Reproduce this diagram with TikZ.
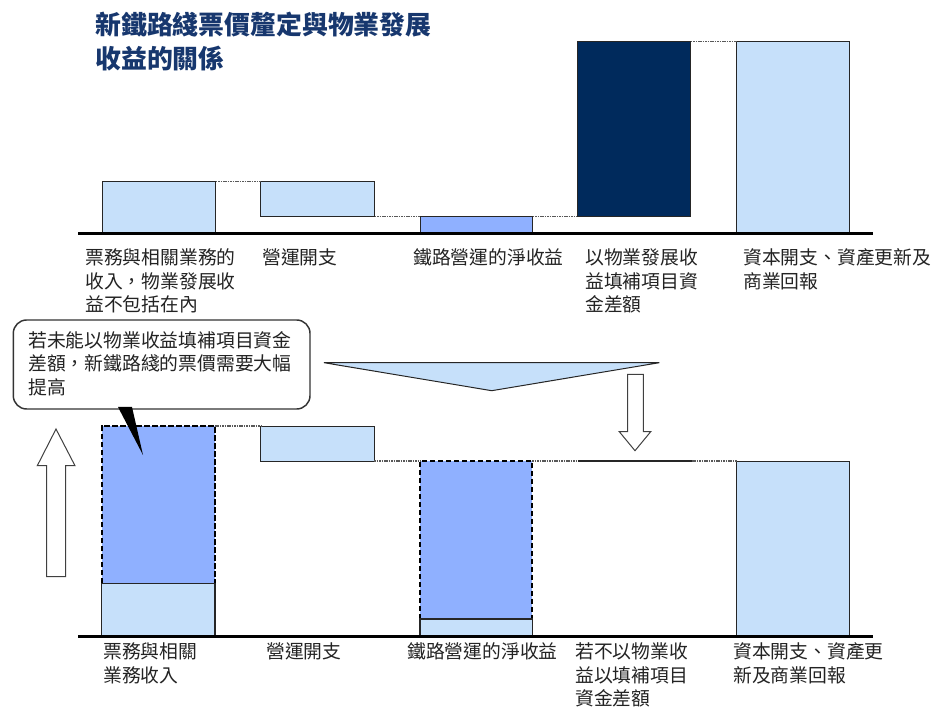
\documentclass[tikz,border=0pt]{standalone}
\usepackage{fontspec}
\setmainfont{Noto Sans CJK TC}
\usetikzlibrary{fit}
\definecolor{lb}{RGB}{198,224,250}
\definecolor{mb}{RGB}{143,176,255}
\definecolor{navy}{RGB}{0,42,92}
\definecolor{titlec}{RGB}{23,55,110}
\definecolor{txt}{RGB}{35,35,35}
\begin{document}
\begin{tikzpicture}[x=0.75pt,y=-0.75pt,
  lab/.style={anchor=north west, inner sep=0pt, align=left,
    font=\fontsize{14.1pt}{17.6pt}\selectfont, text=txt},
  barbox/.style={fit={#1}, inner sep=0pt, outer sep=0pt, draw=black!85, line width=0.75pt},
  fillbox/.style={fit={#1}, inner sep=0pt, outer sep=0pt},
  dashline/.style={draw=black, line width=1.4pt, dash pattern=on 4pt off 2pt},
  dots/.style={draw=black!65, line width=0.8pt, dash pattern=on 1.2pt off 0.6pt},
  axisline/.style={draw=black, line width=2.6pt},
  blockarrow/.style={draw=black!75, fill=white, line width=0.75pt}]
\useasboundingbox (0,0) rectangle (943,709);

% title
\node[anchor=north west, inner sep=0pt, align=left,
  font=\bfseries\fontsize{19.4pt}{25.5pt}\selectfont, text=titlec] (title) at (95,12)
  {新鐵路綫票價釐定與物業發展\\收益的關係};

% ---------- top chart ----------
\node[barbox={(102,181.7) (215.7,233.5)}, fill=lb] (t1) {};
\node[barbox={(260.7,181.7) (374.7,216.5)}, fill=lb] (t2) {};
\node[barbox={(420,216.5) (532.7,233.5)}, fill=mb] (t3) {};
\node[barbox={(577.3,41.7) (690.7,216.5)}, fill=navy] (t4) {};
\node[barbox={(736.7,41.7) (849.3,233.5)}, fill=lb] (t5) {};
\draw[dots] (t1.north east) -- (t2.north west);
\draw[dots] (t2.south east) -- (t3.north west);
\draw[dots] (t3.north east) -- (t4.south west);
\draw[dots] (t4.north east) -- (t5.north west);
\coordinate (ta0) at (78,233.5);
\coordinate (ta1) at (873,233.5);
\draw[axisline] (ta0) -- (ta1);

\node[lab] (tl1) at (85,248.5) {票務與相關業務的\\收入，物業發展收\\益不包括在內};
\node[lab] (tl2) at (262,248.5) {營運開支};
\node[lab] (tl3) at (413,248.5) {鐵路營運的淨收益};
\node[lab] (tl4) at (585,248.5) {以物業發展收\\益填補項目資\\金差額};
\node[lab] (tl5) at (743,248.5) {資本開支、資產更新及\\商業回報};

% ---------- middle ----------
\node[fit={(13.3,320) (310,409)}, inner sep=0pt, draw=black!80, line width=1.1pt,
  rounded corners=10pt, fill=white] (call) {};
\node[lab] (calltext) at (28,331)
  {若未能以物業收益填補項目資金\\差額，新鐵路綫的票價需要大幅\\提高};

\draw[draw=black!85, line width=0.75pt, fill=lb] (324,362.7) coordinate (v1)
  -- (659.3,362.7) coordinate (v2) -- (491.7,390.7) coordinate (v3) -- cycle;

\draw[blockarrow] (627.7,374.3) -- (643.3,374.3) -- (643.3,431.7) -- (650.7,431.7)
  -- (635,450.7) -- (619.3,431.7) -- (627.7,431.7) -- cycle;
\draw[blockarrow] (46.7,576.7) -- (65.7,576.7) -- (65.7,465.7) -- (75,465.7)
  -- (56,429) -- (37.3,465.7) -- (46.7,465.7) -- cycle;

% ---------- bottom chart ----------
\node[fillbox={(101.7,426) (215,583.3)}, fill=mb] (b1a) {};
\draw[dashline] (b1a.south west) -- (b1a.north west) -- (b1a.north east) -- (b1a.south east);
\node[barbox={(101.7,583.3) (215,636.7)}, fill=lb, line width=0.9pt] (b1b) {};
\node[barbox={(260.7,426) (374.3,461)}, fill=lb] (b2) {};
\node[fillbox={(420,461) (532.3,619)}, fill=mb] (b3a) {};
\draw[dashline] (b3a.south west) -- (b3a.north west) -- (b3a.north east) -- (b3a.south east);
\node[barbox={(420,619) (532.3,636.7)}, fill=lb, line width=0.9pt] (b3b) {};
\node[barbox={(736.7,461) (849.3,636.7)}, fill=lb] (b5) {};
\coordinate (g1) at (578,461);
\coordinate (g2) at (692,461);
\draw[dots] (b1a.north east) -- (b2.north west);
\draw[dots] (b2.south east) -- (b3a.north west);
\draw[dots] (b3a.north east) -- (g1);
\draw[draw=black!85, line width=1pt] (g1) -- (g2);
\draw[dots] (g2) -- (b5.north west);
\coordinate (ba0) at (78,636.7);
\coordinate (ba1) at (873,636.7);
\draw[axisline] (ba0) -- (ba1);

% callout pointer
\fill[black] (118,407) coordinate (p1) -- (143,455) coordinate (p2) -- (132,407) coordinate (p3) -- cycle;

\node[lab] (bl1) at (103,642.5) {票務與相關\\業務收入};
\node[lab] (bl2) at (266,642.5) {營運開支};
\node[lab] (bl3) at (407,642.5) {鐵路營運的淨收益};
\node[lab] (bl4) at (575,642.5) {若不以物業收\\益以填補項目\\資金差額};
\node[lab] (bl5) at (733,642.5) {資本開支、資產更\\新及商業回報};
\end{tikzpicture}
\end{document}
